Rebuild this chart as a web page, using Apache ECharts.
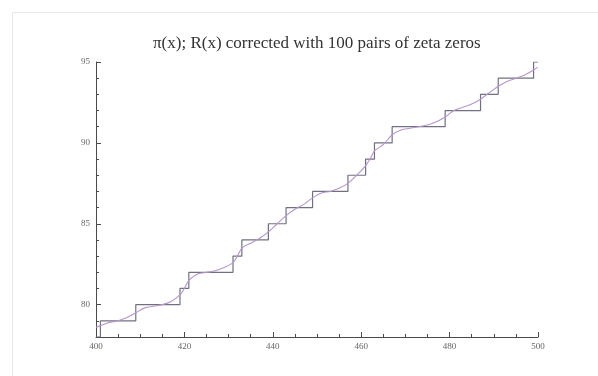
<!DOCTYPE html>
<html>
<head>
<meta charset="utf-8">
<script src="https://cdn.jsdelivr.net/npm/echarts@6/dist/echarts.min.js"></script>
<style>html,body{margin:0;padding:0;background:#fff;}#c{width:598px;height:376px;}</style>
</head>
<body>
<div id="c"></div>
<script>
// pi(x): primes between 400 and 500 and the prime count at each
const primeX = [400, 401, 409, 419, 421, 431, 433, 439, 443, 449, 457, 461, 463, 467, 479, 487, 491, 499, 500];
const primeCount = [78, 79, 80, 81, 82, 83, 84, 85, 86, 87, 88, 89, 90, 91, 92, 93, 94, 95, 95];
// R(x) corrected with 100 pairs of zeta zeros
const rX = [400, 401, 403, 405, 407, 409, 411, 413, 415, 417, 419, 420, 421, 423, 425, 427, 429, 431, 432, 433, 435, 437, 439, 441, 443, 445, 447, 449, 451, 453, 455, 457, 459, 461, 462, 463, 465, 467, 469, 471, 473, 475, 477, 479, 481, 483, 485, 487, 489, 491, 493, 495, 497, 499, 500];
const rY = [78.6, 78.7, 78.9, 79.0, 79.2, 79.5, 79.8, 79.9, 80.0, 80.2, 80.6, 81.0, 81.5, 81.9, 82.0, 82.1, 82.3, 82.6, 83.0, 83.5, 83.8, 84.1, 84.5, 85.0, 85.5, 85.9, 86.2, 86.6, 86.9, 87.0, 87.2, 87.5, 88.0, 88.6, 89.0, 89.5, 89.9, 90.5, 90.8, 90.9, 91.0, 91.1, 91.3, 91.6, 92.0, 92.2, 92.4, 92.7, 93.1, 93.5, 93.8, 94.0, 94.2, 94.5, 94.7];
const yMajorTicks = [80, 85, 90, 95];
const titleText = 'π(x); R(x) corrected with 100 pairs of zeta zeros';

const chart = echarts.init(document.getElementById('c'), null, {renderer: 'canvas'});
const axisColor = '#4a4a4a';
const labelStyle = {color: '#666', fontSize: 9, fontFamily: 'Liberation Serif'};
chart.setOption({
  backgroundColor: '#fff',
  animation: false,
  graphic: [{
    type: 'rect', left: 10, top: 10, shape: {width: 600, height: 380},
    style: {fill: 'none', stroke: '#e8e8e8', lineWidth: 1}, silent: true
  }],
  title: {
    text: titleText, left: 148, top: 30,
    textStyle: {fontFamily: 'Liberation Serif', fontSize: 17, fontWeight: 'normal', color: '#333'}
  },
  grid: {left: 96, right: 60, top: 62, bottom: 39},
  xAxis: {
    type: 'value', min: 400, max: 500, interval: 20,
    axisLine: {show: true, onZero: false, lineStyle: {color: axisColor, width: 1}},
    axisTick: {show: true, inside: true, length: 5, lineStyle: {color: axisColor}},
    minorTick: {show: true, splitNumber: 4, length: 3, lineStyle: {color: axisColor}},
    splitLine: {show: false},
    axisLabel: Object.assign({margin: 5}, labelStyle)
  },
  yAxis: [{
    type: 'value', min: 78, max: 95, interval: 1,
    axisLine: {show: true, onZero: false, lineStyle: {color: axisColor, width: 1}},
    axisTick: {show: true, inside: true, length: 3, lineStyle: {color: axisColor}},
    splitLine: {show: false},
    axisLabel: Object.assign({margin: 6, formatter: v => (yMajorTicks.indexOf(v) >= 0 ? String(v) : '')}, labelStyle)
  }, {
    type: 'value', min: 78, max: 95, position: 'left', offset: 0,
    axisLine: {show: false},
    axisTick: {show: true, inside: true, length: 5, customValues: yMajorTicks, lineStyle: {color: axisColor}},
    axisLabel: {show: false},
    splitLine: {show: false}
  }],
  series: [{
    type: 'line', step: 'end', showSymbol: false, yAxisIndex: 0,
    data: primeX.map((x, i) => [x, primeCount[i]]),
    lineStyle: {color: '#707082', width: 1.2}
  }, {
    type: 'line', smooth: 0.3, showSymbol: false, yAxisIndex: 0,
    data: rX.map((x, i) => [x, rY[i]]),
    lineStyle: {color: '#b695c9', width: 1.1}
  }]
});
</script>
</body>
</html>
